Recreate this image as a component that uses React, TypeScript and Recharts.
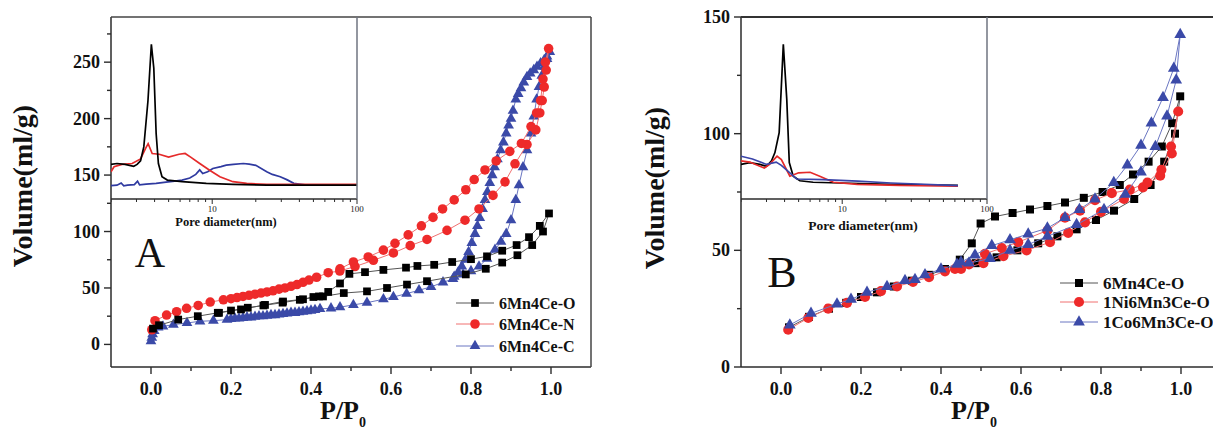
import React from "react";
import { ScatterChart, Scatter, XAxis, YAxis, LineChart, Line, Symbols } from "recharts";

type Pair = [number, number];

const FONT = '"Liberation Serif", "Times New Roman", Times, serif';
const AXIS = "#2b2b2b";
const BLACK = "#000000";
const RED = "#ee2a2a";
const BLUE = "#3b4aa8";

// ---- panel A isotherms (P/P0, volume) : adsorption then desorption ----
const aO_ads: Pair[] = [[0.005,14],[0.02,17],[0.068,22],[0.117,25],[0.167,28],[0.2,30],[0.242,32.5],[0.281,34.5],[0.329,37],[0.372,39.5],[0.406,42],[0.43,42.5],[0.482,45.5],[0.54,47],[0.59,50],[0.64,53],[0.69,56],[0.787,62],[0.837,67],[0.878,72.5],[0.916,79],[0.953,88],[0.98,100],[0.995,116]];
const aO_des: Pair[] = [[0.972,105],[0.945,95],[0.914,88],[0.878,83],[0.84,78],[0.8,75.5],[0.753,73],[0.708,70.5],[0.666,69.5],[0.6375,68],[0.581,66],[0.535,64],[0.496,62.5],[0.4725,54],[0.443,46.5],[0.42,42.5],[0.38,40],[0.33,38],[0.285,35],[0.225,31],[0.17,28]];

const aN_ads: Pair[] = [[0.002,13],[0.01,21],[0.039,26],[0.064,29],[0.089,32],[0.118,34.5],[0.148,37.5],[0.181,39.5],[0.2,40.5],[0.215,41.5],[0.23,42.5],[0.245,43.5],[0.26,44.5],[0.275,45.5],[0.29,46.5],[0.305,47.5],[0.32,49],[0.335,50],[0.35,51.5],[0.365,53],[0.38,55],[0.395,57],[0.414,59.5],[0.443,63.5],[0.472,65],[0.51,69],[0.556,74.5],[0.606,81],[0.648,87.5],[0.69,93],[0.74,101],[0.785,110],[0.82,120],[0.855,132],[0.885,144],[0.91,160],[0.94,177],[0.962,190],[0.972,205],[0.978,216],[0.983,228],[0.988,243],[0.994,262]];
const aN_des: Pair[] = [[0.986,250],[0.98,235],[0.974,216],[0.964,205],[0.95,193],[0.926,178],[0.897,171],[0.863,162.5],[0.835,154.5],[0.808,146],[0.787,137],[0.758,128],[0.729,120],[0.705,112.5],[0.676,105],[0.643,97],[0.61,89.5],[0.581,83.5],[0.543,77.5],[0.506,73],[0.4725,67]];

const aC_ads: Pair[] = [[0,3],[0.002,6],[0.004,9],[0.008,12],[0.018,15],[0.03,16],[0.056,17.5],[0.09,19],[0.1225,20.5],[0.156,21],[0.19,22],[0.2,22.5],[0.21,23],[0.22,23],[0.23,23.5],[0.24,24],[0.25,24],[0.26,24.5],[0.27,25],[0.28,25],[0.29,25.5],[0.3,26],[0.31,26],[0.32,26.5],[0.33,27],[0.34,27.5],[0.35,28],[0.36,28],[0.37,28.5],[0.38,29],[0.39,29.5],[0.4,30],[0.41,30.5],[0.4225,31.5],[0.45,32],[0.4725,33],[0.506,35],[0.54,37],[0.581,40],[0.606,42],[0.639,45],[0.67,48],[0.7,51],[0.73,55],[0.755,58],[0.78,62],[0.8,65],[0.82,69],[0.84,76],[0.86,84],[0.875,91],[0.888,98],[0.9,110],[0.912,128],[0.92,141],[0.93,157],[0.94,172],[0.95,187],[0.957,202],[0.964,217],[0.97,228],[0.977,238],[0.984,246],[0.99,253],[0.997,259]];
const aC_des: Pair[] = [[0.99,255],[0.983,252],[0.974,249],[0.965,246],[0.957,243],[0.948,240],[0.94,237],[0.932,232],[0.925,227],[0.918,222],[0.912,217],[0.905,207],[0.9,200],[0.894,194],[0.888,187],[0.881,179],[0.874,172],[0.866,164],[0.859,157],[0.853,150],[0.847,143],[0.841,135],[0.835,128],[0.829,120],[0.822,112],[0.816,105],[0.81,98],[0.802,90],[0.794,82],[0.786,75],[0.777,69],[0.768,64],[0.758,60]];

// ---- panel B isotherms ----
const bO_ads: Pair[] = [[0.02,17],[0.07,21.5],[0.12,25],[0.163,27.5],[0.2,30],[0.24,32],[0.282,34.5],[0.327,37],[0.371,39.5],[0.41,42],[0.445,43.5],[0.487,44.5],[0.539,47],[0.591,50],[0.643,53],[0.691,56],[0.739,59],[0.7875,63],[0.8325,67],[0.883,72],[0.924,78],[0.958,88],[0.985,100],[0.998,116]];
const bO_des: Pair[] = [[0.978,104.5],[0.952,94.5],[0.919,88],[0.88,82.5],[0.847,78],[0.804,75],[0.757,72.5],[0.71,70.5],[0.666,69],[0.6225,67.5],[0.579,66],[0.535,64.5],[0.499,61.5],[0.477,53],[0.447,46]];

const bNi_ads: Pair[] = [[0.018,16],[0.068,21],[0.118,25],[0.165,27.5],[0.21,30],[0.25,32.5],[0.29,34.5],[0.33,36.5],[0.37,38.5],[0.41,41],[0.435,42],[0.45,42],[0.506,44.5],[0.556,47.5],[0.614,50],[0.6725,53.5],[0.718,57.5],[0.76,62],[0.8,66.5],[0.8575,72],[0.905,77],[0.948,82],[0.977,91.5],[0.993,109.5]];
const bNi_des: Pair[] = [[0.975,94.5],[0.951,84.5],[0.916,79],[0.872,76],[0.827,74.5],[0.785,71.5],[0.7475,67],[0.71,64],[0.666,58.5],[0.593,53.5],[0.552,51],[0.51,48.5],[0.47,44],[0.44,42.5]];

const bCo_ads: Pair[] = [[0.022,18],[0.075,23],[0.14,27],[0.175,29],[0.215,32],[0.265,34.5],[0.31,37],[0.335,37.5],[0.36,39.5],[0.4,42],[0.44,44],[0.47,44.5],[0.5225,46.5],[0.5725,50],[0.618,52.5],[0.666,56],[0.739,61],[0.8075,67.5],[0.861,74],[0.9,83.5],[0.936,94.5],[0.965,107.5],[0.988,123],[0.998,142.5]];
const bCo_des: Pair[] = [[0.982,128],[0.955,115.5],[0.926,104.5],[0.9,95],[0.866,86.5],[0.832,79],[0.785,72],[0.746,67.5],[0.71,64],[0.666,59.5],[0.618,57],[0.5725,54.5],[0.527,52],[0.485,48],[0.45,45]];

// ---- insets: pore diameter (nm), dV/dlogD (arb.) ----
const inA_O: Pair[] = [[2,19],[2.2,19.5],[2.5,19],[2.87,18],[3.03,19],[3.2,21],[3.37,28.6],[3.6,54],[3.8,85],[3.95,72],[4.1,36],[4.25,19.5],[4.5,12.2],[4.9,10.4],[6.2,9.5],[9.1,8.6],[13.9,8],[23.8,7.6],[100,7.6]];
const inA_N: Pair[] = [[2,15],[2.1,17.7],[2.38,19],[2.8,19.5],[3.2,22],[3.46,27.7],[3.61,30.4],[3.85,25],[4.3,24.6],[5,23],[5.9,24.6],[6.5,25],[7.1,23],[8.2,19.5],[9.6,15.8],[11.3,12.2],[13.9,9.5],[17.3,8.6],[23.8,8],[100,8]];
const inA_C: Pair[] = [[2,7.3],[2.2,7.6],[2.35,8.8],[2.45,7.2],[2.6,7.6],[2.9,7.9],[3.05,9.8],[3.15,7.8],[3.5,8.2],[4.1,8.6],[4.8,9.3],[5.5,9.8],[6.2,10.4],[7,11.5],[7.7,13.5],[8.2,16],[8.6,14],[9.3,15],[10.1,16.8],[11.5,17.8],[12.5,18.6],[14,19],[16.4,19.5],[18,19.2],[20,18.5],[23.8,15],[26,13.5],[29.5,12.2],[33,10.5],[36.6,8.6],[45,7.6],[100,7.6]];

const inB_O: Pair[] = [[2,19],[2.3,20],[2.7,19],[3,18],[3.25,21],[3.43,25.5],[3.67,36.5],[3.92,85],[4.14,55],[4.31,20],[4.59,12.5],[5.1,10],[6.3,9.2],[9.7,8.8],[21.7,8],[63,7.5]];
const inB_Ni: Pair[] = [[2,21],[2.3,20.3],[2.7,18],[2.9,17],[3.15,19],[3.55,23.5],[3.8,21.7],[4.35,12.5],[5,14.4],[6,14.7],[7,12.5],[8.7,9.2],[12.7,8],[25,7.5],[63,7]];
const inB_Co: Pair[] = [[2,23.5],[2.4,22],[3,19],[3.5,20.3],[3.8,18.5],[4.35,14.4],[4.85,11],[7.4,10.7],[12.8,9.8],[21.7,8.8],[63,7.4]];

const xTicks = [0, 0.1, 0.2, 0.3, 0.4, 0.5, 0.6, 0.7, 0.8, 0.9, 1.0];
const yTicksA = [0, 25, 50, 75, 100, 125, 150, 175, 200, 225, 250, 275];
const yTicksB = [0, 25, 50, 75, 100, 125, 150];
const logTicks = [2, 3, 4, 5, 6, 7, 8, 9, 10, 20, 30, 40, 50, 60, 70, 80, 90, 100];

const loop = (ads: Pair[], des: Pair[]) => [...ads, ...des].map(([x, y]) => ({ x, y }));
const curve = (pts: Pair[]) => pts.map(([d, v]) => ({ d, v }));

const marker = (type: any, color: string, size: number) => (props: any) =>
  props.cx == null ? <g /> : <Symbols cx={props.cx} cy={props.cy} type={type} size={size} fill={color} />;

const renderXTick = (props: any) => {
  const { x, y, payload } = props;
  const v = payload.value;
  const major = Math.round(v * 10) % 2 === 0;
  return (
    <g>
      <line x1={x} x2={x} y1={y} y2={y + (major ? 7 : 4)} stroke={AXIS} strokeWidth={1.4} />
      {major && (
        <text x={x} y={y + 28} textAnchor="middle" fontFamily={FONT} fontWeight="bold" fontSize={18} fill="#111">
          {v.toFixed(1)}
        </text>
      )}
    </g>
  );
};

const renderYTick = (props: any) => {
  const { x, y, payload } = props;
  const v = payload.value;
  const major = v % 50 === 0;
  return (
    <g>
      <line x1={x - (major ? 7 : 4)} x2={x} y1={y} y2={y} stroke={AXIS} strokeWidth={1.4} />
      {major && (
        <text x={x - 11} y={y + 6} textAnchor="end" fontFamily={FONT} fontWeight="bold" fontSize={18} fill="#111">
          {v}
        </text>
      )}
    </g>
  );
};

const renderLogTick = (props: any) => {
  const { x, y, payload } = props;
  const v = payload.value;
  const major = v === 10 || v === 100;
  return (
    <g>
      <line x1={x} x2={x} y1={y} y2={y + (major ? 5 : 3)} stroke={AXIS} strokeWidth={1} />
      {major && (
        <text x={x} y={y + 13} textAnchor="middle" fontFamily={FONT} fontSize={9} fill="#222">
          {v}
        </text>
      )}
    </g>
  );
};

interface SeriesDef {
  data: { x: number; y: number }[];
  type: string;
  color: string;
  line: string;
  size: number;
}

function MainChart({ left, width, yDomain, yTicks, series }: { left: number; width: number; yDomain: number[]; yTicks: number[]; series: SeriesDef[] }) {
  return (
    <div style={{ position: "absolute", left, top: 0 }}>
      <ScatterChart width={width} height={429} margin={{ top: 17, right: width - 111 - 480, bottom: 0, left: 0 }}>
        <XAxis type="number" dataKey="x" domain={[-0.1, 1.1]} ticks={xTicks} interval={0} tick={renderXTick}
          tickLine={false} tickSize={0} tickMargin={0} height={62} allowDataOverflow axisLine={{ stroke: AXIS, strokeWidth: 1.5 }} />
        <YAxis type="number" dataKey="y" domain={yDomain} ticks={yTicks} interval={0} tick={renderYTick}
          tickLine={false} tickSize={0} tickMargin={0} width={111} allowDataOverflow axisLine={{ stroke: AXIS, strokeWidth: 1.5 }} />
        {series.map((s, i) => (
          <Scatter key={i} data={s.data} line={{ stroke: s.line, strokeWidth: 1 }} lineType="joint"
            shape={marker(s.type, s.color, s.size)} fill={s.color} isAnimationActive={false} />
        ))}
      </ScatterChart>
    </div>
  );
}

function Inset({ left, curves }: { left: number; curves: { pts: Pair[]; color: string }[] }) {
  return (
    <div style={{ position: "absolute", left, top: 17 }}>
      <LineChart width={261} height={212} margin={{ top: 0, right: 15, bottom: 0, left: 0 }}>
        <XAxis type="number" dataKey="d" scale="log" domain={[2, 100]} ticks={logTicks} interval={0} tick={renderLogTick}
          tickLine={false} tickSize={0} tickMargin={0} height={30} allowDataOverflow axisLine={{ stroke: AXIS, strokeWidth: 1.3 }} />
        <YAxis type="number" domain={[0, 100]} hide width={0} />
        {curves.map((c, i) => (
          <Line key={i} data={curve(c.pts)} dataKey="v" type="linear" stroke={c.color} strokeWidth={1.7} dot={false} isAnimationActive={false} />
        ))}
      </LineChart>
    </div>
  );
}

function LegendRow({ x, y, len, type, color, line, size, label, fontSize }: any) {
  return (
    <g>
      <line x1={x} x2={x + len} y1={y} y2={y} stroke={line} strokeWidth={1} />
      <Symbols cx={x + len / 2} cy={y} type={type} size={size} fill={color} />
      <text x={x + len + 5} y={y + 6} fontFamily={FONT} fontWeight="bold" fontSize={fontSize} fill="#111">{label}</text>
    </g>
  );
}

export default function App() {
  const seriesA: SeriesDef[] = [
    { data: loop(aC_ads, aC_des), type: "triangle", color: BLUE, line: "#6a76c2", size: 50 },
    { data: loop(aN_ads, aN_des), type: "circle", color: RED, line: "#f07070", size: 72 },
    { data: loop(aO_ads, aO_des), type: "square", color: BLACK, line: "#555", size: 60 },
  ];
  const seriesB: SeriesDef[] = [
    { data: loop(bO_ads, bO_des), type: "square", color: BLACK, line: "#555", size: 64 },
    { data: loop(bNi_ads, bNi_des), type: "circle", color: RED, line: "#f07070", size: 80 },
    { data: loop(bCo_ads, bCo_des), type: "triangle", color: BLUE, line: "#6a76c2", size: 60 },
  ];

  return (
    <div style={{ position: "absolute", left: 0, top: 0, width: 1213, height: 429, overflow: "hidden", background: "#fff" }}>
      <MainChart left={0} width={600} yDomain={[-20, 290]} yTicks={yTicksA} series={seriesA} />
      <MainChart left={630} width={630} yDomain={[0, 150]} yTicks={yTicksB} series={seriesB} />
      <Inset left={111} curves={[{ pts: inA_C, color: "#2f3aa0" }, { pts: inA_N, color: "#e52a2a" }, { pts: inA_O, color: BLACK }]} />
      <Inset left={741} curves={[{ pts: inB_O, color: BLACK }, { pts: inB_Ni, color: "#e52a2a" }, { pts: inB_Co, color: "#3a44a8" }]} />
      <svg width={1213} height={429} style={{ position: "absolute", left: 0, top: 0, pointerEvents: "none" }}>
        {/* frames */}
        <line x1={111} x2={591} y1={17} y2={17} stroke="#444" strokeWidth={1.5} />
        <line x1={591} x2={591} y1={17} y2={367} stroke="#444" strokeWidth={1.5} />
        <line x1={741} x2={1213} y1={17} y2={17} stroke="#333" strokeWidth={2} />
        <line x1={357} x2={357} y1={17} y2={199} stroke="#6f7480" strokeWidth={1.5} />
        <line x1={987} x2={987} y1={17} y2={199} stroke="#6f7480" strokeWidth={1.5} />

        {/* axis titles */}
        <text transform="translate(32,186) rotate(-90)" textAnchor="middle" fontFamily={FONT} fontWeight="bold" fontSize={28} fill="#111">Volume(ml/g)</text>
        <text transform="translate(664,188) rotate(-90)" textAnchor="middle" fontFamily={FONT} fontWeight="bold" fontSize={28} fill="#111">Volume(ml/g)</text>
        <text x={320} y={419} fontFamily={FONT} fontWeight="bold" fontSize={26} fill="#111">P/P<tspan fontSize={14} dy={8}>0</tspan></text>
        <text x={951} y={419} fontFamily={FONT} fontWeight="bold" fontSize={26} fill="#111">P/P<tspan fontSize={14} dy={8}>0</tspan></text>

        {/* inset titles */}
        <text x={226} y={226} textAnchor="middle" fontFamily={FONT} fontWeight="bold" fontSize={12.5} fill="#111">Pore diameter(nm)</text>
        <text x={863} y={230} textAnchor="middle" fontFamily={FONT} fontWeight="bold" fontSize={13.5} fill="#111">Pore diameter(nm)</text>

        {/* panel letters */}
        <text x={150} y={267} textAnchor="middle" fontFamily={FONT} fontSize={42} fill="#111">A</text>
        <text x={782} y={287} textAnchor="middle" fontFamily={FONT} fontSize={44} fill="#111">B</text>

        {/* legends */}
        <LegendRow x={456} y={303} len={38} type="square" color={BLACK} line="#555" size={60} label="6Mn4Ce-O" fontSize={16} />
        <LegendRow x={456} y={324} len={38} type="circle" color={RED} line="#f07070" size={72} label="6Mn4Ce-N" fontSize={16} />
        <LegendRow x={456} y={346} len={38} type="triangle" color={BLUE} line="#6a76c2" size={50} label="6Mn4Ce-C" fontSize={16} />
        <LegendRow x={1060} y={283} len={38} type="square" color={BLACK} line="#555" size={64} label="6Mn4Ce-O" fontSize={17} />
        <LegendRow x={1060} y={302} len={38} type="circle" color={RED} line="#f07070" size={80} label="1Ni6Mn3Ce-O" fontSize={17} />
        <LegendRow x={1060} y={322} len={38} type="triangle" color={BLUE} line="#6a76c2" size={60} label="1Co6Mn3Ce-O" fontSize={17} />
      </svg>
    </div>
  );
}
